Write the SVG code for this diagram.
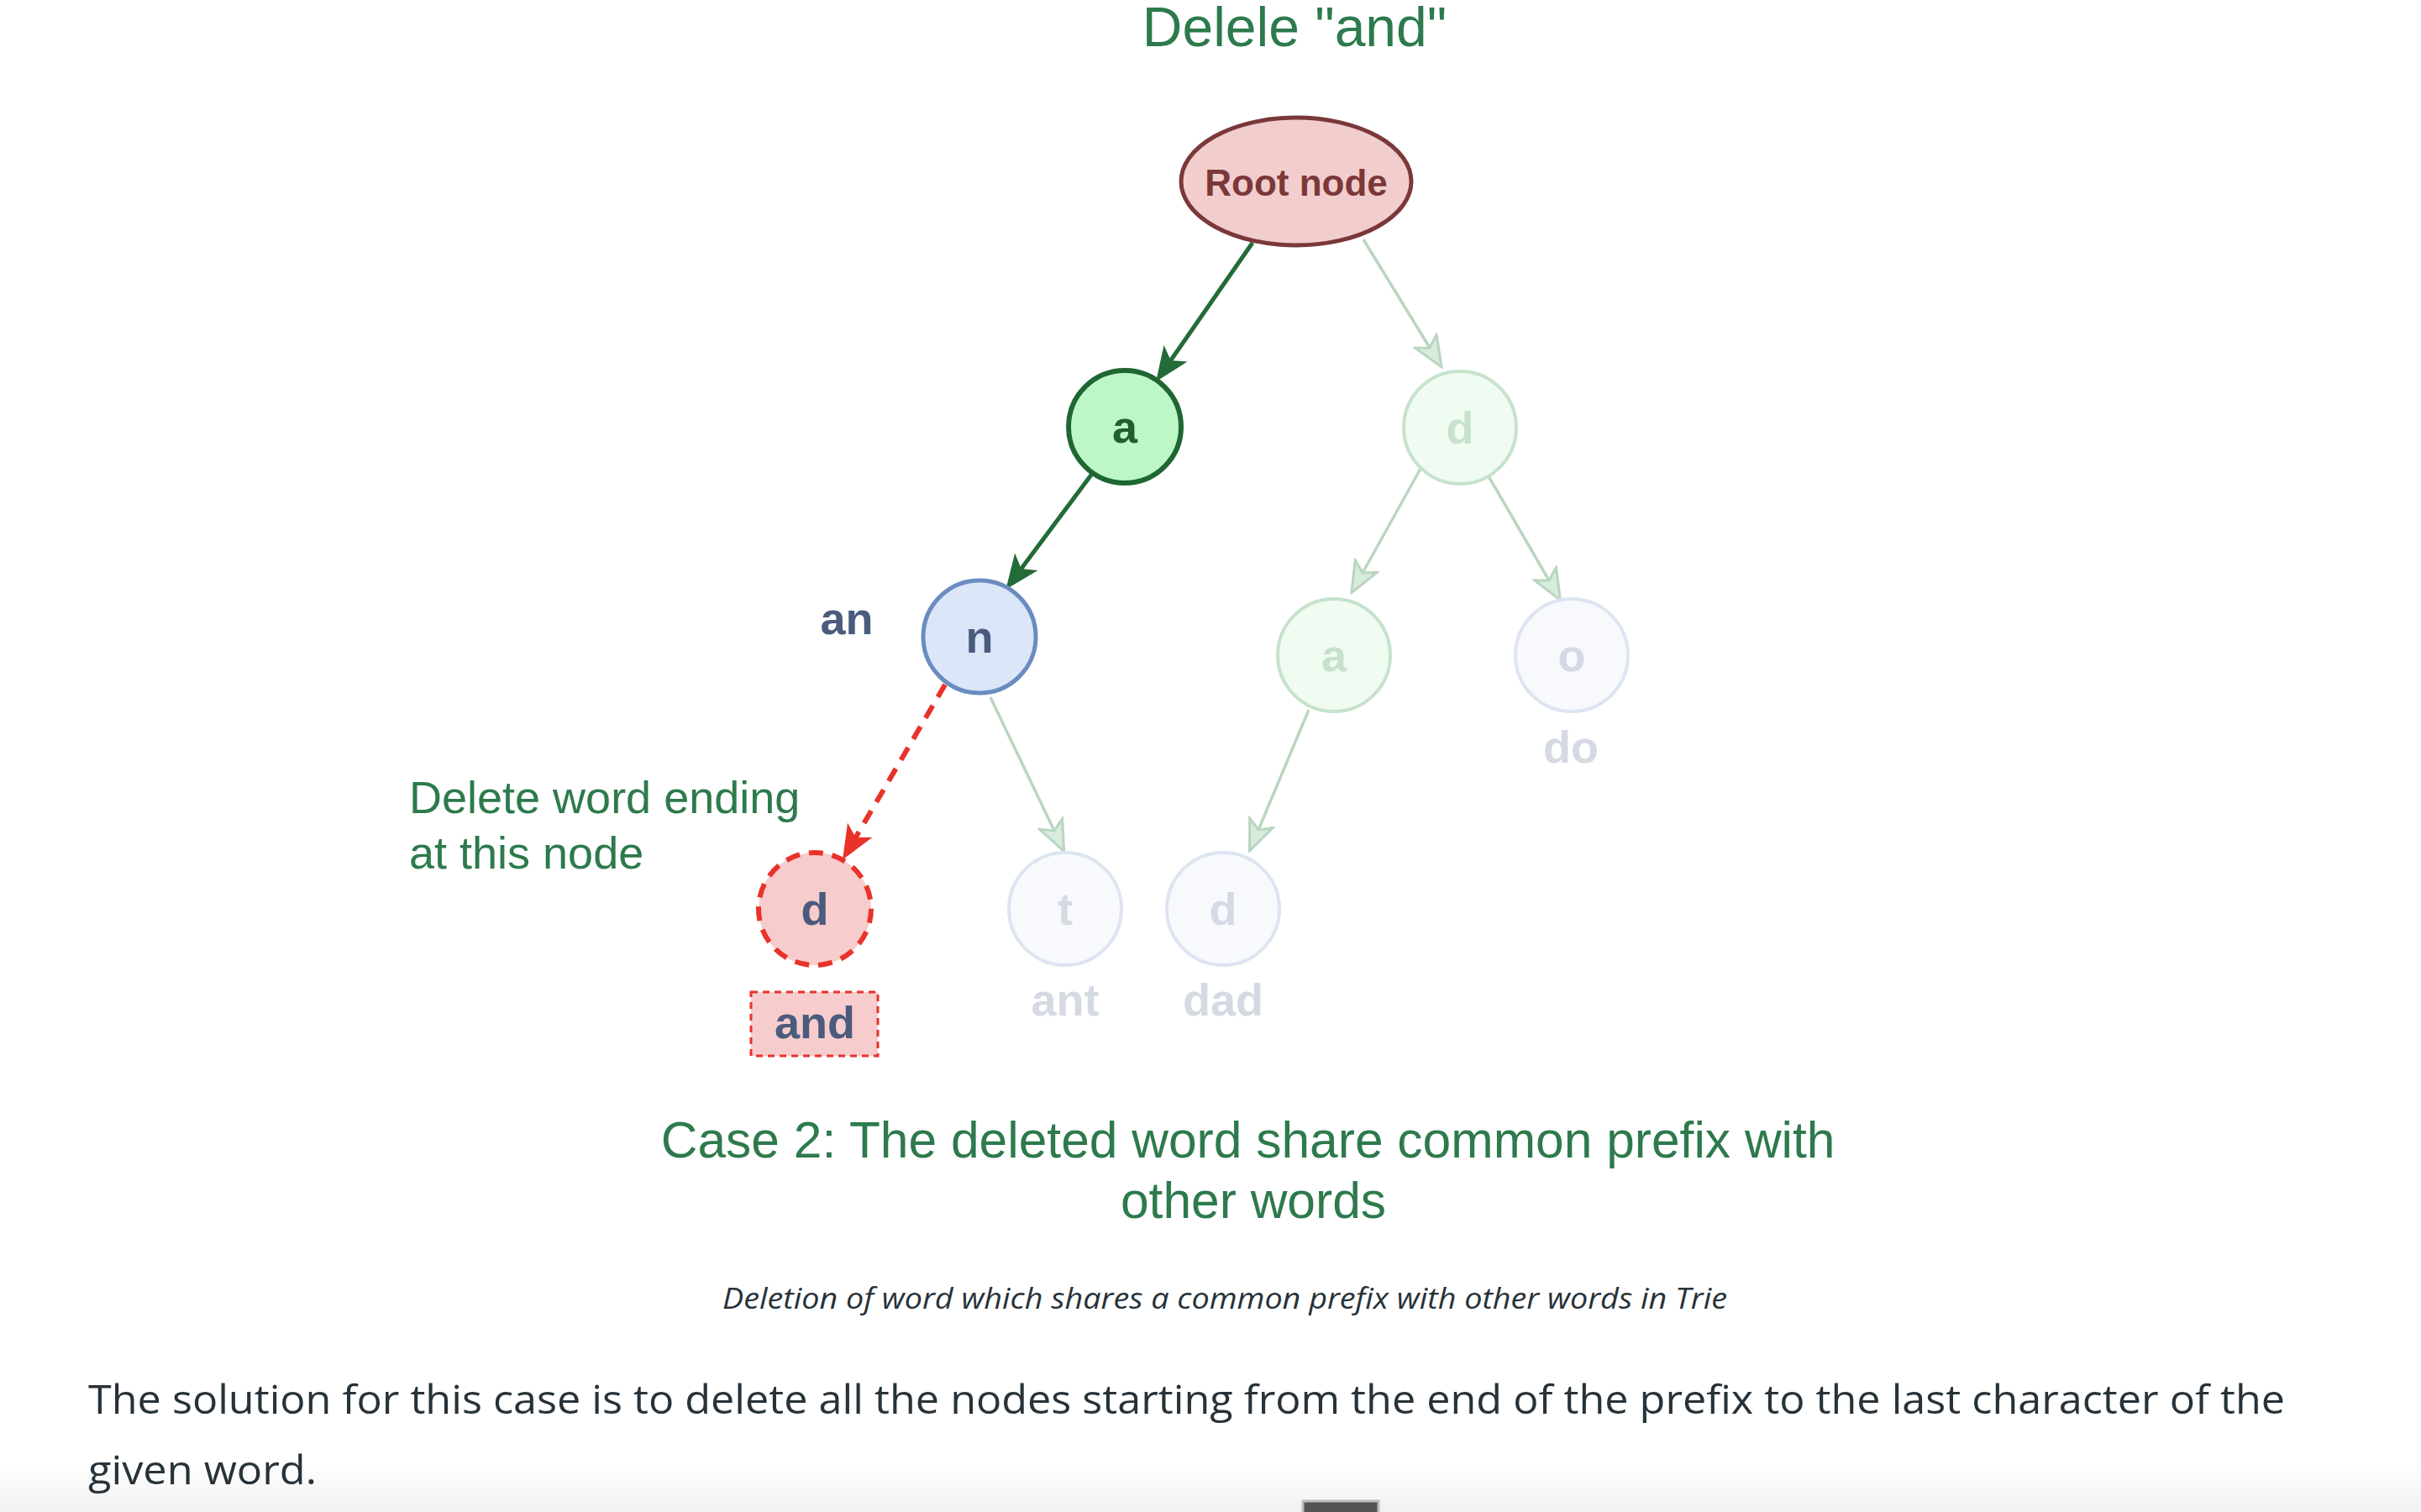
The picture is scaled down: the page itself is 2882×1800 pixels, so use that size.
<svg xmlns="http://www.w3.org/2000/svg" width="2882" height="1800" viewBox="0 0 2882 1800">
  <defs>
    <style>
      .note { font-family: "Liberation Sans", Arial, sans-serif; fill: #2d7a4c; }
      .lbl { font-family: "Liberation Sans", Arial, sans-serif; font-weight: bold; font-size: 54px; text-anchor: middle; }
      .body { font-family: "Open Sans", "Noto Sans", sans-serif; fill: #273239; }
      .dim-green { fill: #f0fbf2; stroke: #c6e2cc; stroke-width: 4; }
      .dim-blue { fill: #f7f9fd; stroke: #dde4f2; stroke-width: 4; }
      .dim-green-t { fill: #c6e2cc; }
      .dim-blue-t { fill: #d5d9e3; }
      .edge-strong { fill: none; stroke: #236b38; stroke-width: 5; marker-end: url(#head-strong); }
      .edge-dim { fill: none; stroke: #b9d6c0; stroke-width: 3.5; marker-end: url(#head-dim); }
      .edge-del { fill: none; stroke: #e8322a; stroke-width: 6; stroke-dasharray: 17 12; marker-end: url(#head-del); }
    </style>
    <!-- notched "classic" arrowheads; the path ends at the notch, tip is 27px ahead -->
    <marker id="head-strong" markerUnits="userSpaceOnUse" viewBox="-2 -18 40 36" markerWidth="40" markerHeight="36" refX="9" refY="0" orient="auto">
      <path d="M36,0 L0,-15 L9,0 L0,15 Z" fill="#236b38" stroke="#236b38" stroke-width="2" stroke-linejoin="miter"/>
    </marker>
    <marker id="head-dim" markerUnits="userSpaceOnUse" viewBox="-2 -18 40 36" markerWidth="40" markerHeight="36" refX="9" refY="0" orient="auto">
      <path d="M36,0 L0,-15 L9,0 L0,15 Z" fill="#d9ebdd" stroke="#b9d6c0" stroke-width="3" stroke-linejoin="miter"/>
    </marker>
    <marker id="head-del" markerUnits="userSpaceOnUse" viewBox="-2 -18 40 36" markerWidth="40" markerHeight="36" refX="9" refY="0" orient="auto">
      <path d="M36,0 L0,-15 L9,0 L0,15 Z" fill="#e8322a" stroke="#e8322a" stroke-width="2" stroke-linejoin="miter"/>
    </marker>
    <linearGradient id="page-foot" x1="0" y1="0" x2="0" y2="1">
      <stop offset="0" stop-color="#ffffff"/>
      <stop offset="1" stop-color="#f1f1f1"/>
    </linearGradient>
  </defs>

  <rect width="2882" height="1800" fill="#ffffff"/>
  <rect x="0" y="1740" width="2882" height="60" fill="url(#page-foot)"/>

  <!-- heading -->
  <text class="note" x="1541" y="55" font-size="66" text-anchor="middle">Delele "and"</text>

  <!-- connectors -->
  <g id="connectors">
    <path class="edge-strong" d="M1491,289 L1393,430"/>
    <path class="edge-strong" d="M1300,564 L1215,678"/>
    <path class="edge-del" d="M1125,815 L1018,998"/>
    <path class="edge-dim" d="M1623,285 L1702,414"/>
    <path class="edge-dim" d="M1691,558 L1622,682"/>
    <path class="edge-dim" d="M1772,567 L1844,691"/>
    <path class="edge-dim" d="M1179,830 L1255,989"/>
    <path class="edge-dim" d="M1558,845 L1498,988"/>
  </g>

  <!-- trie nodes -->
  <g id="node-root">
    <ellipse cx="1543" cy="216" rx="137" ry="76" fill="#f2cdcd" stroke="#7b3838" stroke-width="5"/>
    <text x="1543" y="233" font-family="Liberation Sans, Arial, sans-serif" font-weight="bold" font-size="44" text-anchor="middle" fill="#7b3838">Root node</text>
  </g>
  <g id="node-a">
    <circle cx="1339" cy="508" r="67" fill="#bdf7c6" stroke="#1f6633" stroke-width="6"/>
    <text class="lbl" x="1339" y="527" fill="#1f5f30">a</text>
  </g>
  <g id="node-n">
    <circle cx="1166" cy="758" r="67" fill="#dbe6f8" stroke="#6a8cc0" stroke-width="5"/>
    <text class="lbl" x="1166" y="777" fill="#4a5b7d">n</text>
  </g>
  <g id="label-an">
    <text class="lbl" x="1008" y="755" fill="#4a5b7d">an</text>
  </g>
  <g id="node-d-and">
    <circle cx="970" cy="1082" r="67" fill="#f7cccc" stroke="#e8322a" stroke-width="6" stroke-dasharray="17 11"/>
    <text class="lbl" x="970" y="1101" fill="#4a5b7d">d</text>
  </g>
  <g id="word-and">
    <rect x="894" y="1181" width="151" height="76" fill="#f7cccc" stroke="#e8322a" stroke-width="3" stroke-dasharray="8 6"/>
    <text class="lbl" x="970" y="1236" fill="#4a5b7d">and</text>
  </g>
  <g id="node-t">
    <circle cx="1268" cy="1082" r="67" class="dim-blue"/>
    <text class="lbl dim-blue-t" x="1268" y="1101">t</text>
    <text class="lbl dim-blue-t" x="1268" y="1209">ant</text>
  </g>
  <g id="node-d">
    <circle cx="1738" cy="509" r="67" class="dim-green"/>
    <text class="lbl dim-green-t" x="1738" y="528">d</text>
  </g>
  <g id="node-da">
    <circle cx="1588" cy="780" r="67" class="dim-green"/>
    <text class="lbl dim-green-t" x="1588" y="799">a</text>
  </g>
  <g id="node-dad">
    <circle cx="1456" cy="1082" r="67" class="dim-blue"/>
    <text class="lbl dim-blue-t" x="1456" y="1101">d</text>
    <text class="lbl dim-blue-t" x="1456" y="1209">dad</text>
  </g>
  <g id="node-do">
    <circle cx="1871" cy="780" r="67" class="dim-blue"/>
    <text class="lbl dim-blue-t" x="1871" y="799">o</text>
    <text class="lbl dim-blue-t" x="1870" y="908">do</text>
  </g>

  <!-- annotation -->
  <text class="note" font-size="54">
    <tspan x="487" y="968">Delete word ending</tspan>
    <tspan x="487" y="1034">at this node</tspan>
  </text>

  <!-- case caption -->
  <text class="note" font-size="60.5" text-anchor="middle">
    <tspan x="1494" y="1378">Case 2: The deleted word share common prefix with</tspan>
    <tspan x="1492" y="1450">other words</tspan>
  </text>

  <!-- figure caption and following paragraph -->
  <text class="body" x="860" y="1558" font-size="34" font-style="italic" textLength="1196" lengthAdjust="spacingAndGlyphs">Deletion of word which shares a common prefix with other words in Trie</text>
  <text class="body" x="105" y="1683" font-size="48" textLength="2615" lengthAdjust="spacingAndGlyphs">The solution for this case is to delete all the nodes starting from the end of the prefix to the last character of the</text>
  <text class="body" x="105" y="1767" font-size="48" textLength="272" lengthAdjust="spacingAndGlyphs">given word.</text>

  <!-- scroll handle at the bottom edge -->
  <rect x="1551" y="1787" width="90" height="16" fill="#545454" stroke="#bcbcbc" stroke-width="3"/>
</svg>
